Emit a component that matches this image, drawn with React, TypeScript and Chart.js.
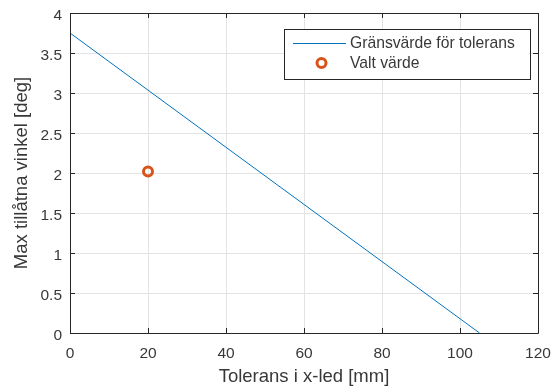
import React, { useEffect, useRef } from 'react';
import { Chart, registerables } from 'chart.js';

Chart.register(...registerables);

// ---- data ----
const limitX = [0, 105];
const limitY = [3.75, 0];
const chosenX = [20];
const chosenY = [2.02];
const xTickValues = [0, 20, 40, 60, 80, 100, 120];
const yTickValues = [0, 0.5, 1, 1.5, 2, 2.5, 3, 3.5, 4];
const seriesLabels = ['Gränsvärde för tolerans', 'Valt värde'];
const xTitle = 'Tolerans i x-led [mm]';
const yTitle = 'Max tillåtna vinkel [deg]';

const FONT = '"Liberation Sans", Arial, Helvetica, sans-serif';
const AXIS_COLOR = '#262626';
const TEXT_COLOR = '#383838';
const GRID_COLOR = '#e3e3e3';
const LINE_COLOR = '#0072BD';
const MARK_COLOR = '#D95319';

const boxPlugin = {
  id: 'matlabBox',
  afterDatasetsDraw(chart: any) {
    const { ctx, chartArea: a, scales } = chart;
    const xs = scales.x;
    const ys = scales.y;
    ctx.save();
    ctx.strokeStyle = AXIS_COLOR;
    ctx.lineWidth = 1;
    ctx.beginPath();
    ctx.rect(Math.round(a.left) + 0.5, Math.round(a.top) + 0.5, Math.round(a.right - a.left), Math.round(a.bottom - a.top));
    ctx.stroke();
    const tl = 5;
    ctx.beginPath();
    xTickValues.forEach((v) => {
      const px = Math.round(xs.getPixelForValue(v)) + 0.5;
      ctx.moveTo(px, a.bottom);
      ctx.lineTo(px, a.bottom - tl);
      ctx.moveTo(px, a.top);
      ctx.lineTo(px, a.top + tl);
    });
    yTickValues.forEach((v) => {
      const py = Math.round(ys.getPixelForValue(v)) + 0.5;
      ctx.moveTo(a.left, py);
      ctx.lineTo(a.left + tl, py);
      ctx.moveTo(a.right, py);
      ctx.lineTo(a.right - tl, py);
    });
    ctx.stroke();

    // legend
    const lx = 284.5, ly = 29.5, lw = 246, lh = 50;
    ctx.fillStyle = '#ffffff';
    ctx.fillRect(lx, ly, lw, lh);
    ctx.strokeStyle = AXIS_COLOR;
    ctx.strokeRect(lx, ly, lw, lh);
    ctx.strokeStyle = LINE_COLOR;
    ctx.lineWidth = 1;
    ctx.beginPath();
    ctx.moveTo(293, 43.5);
    ctx.lineTo(346, 43.5);
    ctx.stroke();
    ctx.strokeStyle = MARK_COLOR;
    ctx.lineWidth = 3;
    ctx.beginPath();
    ctx.arc(321.5, 63, 4.5, 0, Math.PI * 2);
    ctx.stroke();
    ctx.fillStyle = TEXT_COLOR;
    ctx.font = `15.7px ${FONT}`;
    ctx.textAlign = 'left';
    ctx.textBaseline = 'middle';
    ctx.fillText(seriesLabels[0], 350, 44);
    ctx.fillText(seriesLabels[1], 350, 64);
    ctx.restore();
  },
};

export default function App() {
  const ref = useRef<HTMLCanvasElement>(null);
  useEffect(() => {
    document.body.style.margin = '0';
    const canvas = ref.current!;
    const chart = new Chart(canvas, {
      type: 'scatter',
      data: {
        datasets: [
          {
            label: seriesLabels[0],
            data: limitX.map((x, i) => ({ x, y: limitY[i] })),
            showLine: true,
            borderColor: LINE_COLOR,
            borderWidth: 1,
            pointRadius: 0,
            pointHoverRadius: 0,
            fill: false,
          },
          {
            label: seriesLabels[1],
            data: chosenX.map((x, i) => ({ x, y: chosenY[i] })),
            showLine: false,
            pointStyle: 'circle',
            pointRadius: 4.5,
            pointBorderWidth: 3,
            borderColor: MARK_COLOR,
            backgroundColor: 'rgba(0,0,0,0)',
            pointBackgroundColor: 'rgba(0,0,0,0)',
            pointBorderColor: MARK_COLOR,
          },
        ],
      },
      options: {
        animation: false,
        responsive: false,
        devicePixelRatio: 1,
        events: [],
        layout: { padding: 0 },
        plugins: {
          legend: { display: false },
          tooltip: { enabled: false },
        },
        scales: {
          x: {
            type: 'linear',
            min: 0,
            max: 120,
            afterBuildTicks: (s: any) => {
              s.ticks = xTickValues.map((v) => ({ value: v }));
            },
            afterFit: (s: any) => {
              s.height = 57;
              s.paddingLeft = 0;
              s.paddingRight = 14;
            },
            ticks: {
              padding: 11,
              maxRotation: 0,
              color: TEXT_COLOR,
              font: { family: FONT, size: 15.5 },
              callback: (v: any) => String(v),
            },
            grid: { color: GRID_COLOR, drawTicks: false },
            border: { display: false },
            title: {
              display: true,
              text: xTitle,
              color: TEXT_COLOR,
              font: { family: FONT, size: 18.5 },
              padding: { top: 0, bottom: 2 },
            },
          },
          y: {
            type: 'linear',
            min: 0,
            max: 4,
            afterBuildTicks: (s: any) => {
              s.ticks = yTickValues.map((v) => ({ value: v }));
            },
            afterFit: (s: any) => {
              s.width = 70;
              s.paddingTop = 13;
              s.paddingBottom = 0;
            },
            ticks: {
              padding: 8,
              labelOffset: 3,
              color: TEXT_COLOR,
              font: { family: FONT, size: 15.5 },
              callback: (v: any) => String(v),
            },
            grid: { color: GRID_COLOR, drawTicks: false },
            border: { display: false },
            title: {
              display: true,
              text: yTitle,
              color: TEXT_COLOR,
              font: { family: FONT, size: 18.5 },
              padding: { top: 11, bottom: 0 },
            },
          },
        },
      },
      plugins: [boxPlugin],
    });
    return () => chart.destroy();
  }, []);
  return <canvas ref={ref} width={552} height={390} style={{ display: 'block', width: 552, height: 390 }} />;
}
